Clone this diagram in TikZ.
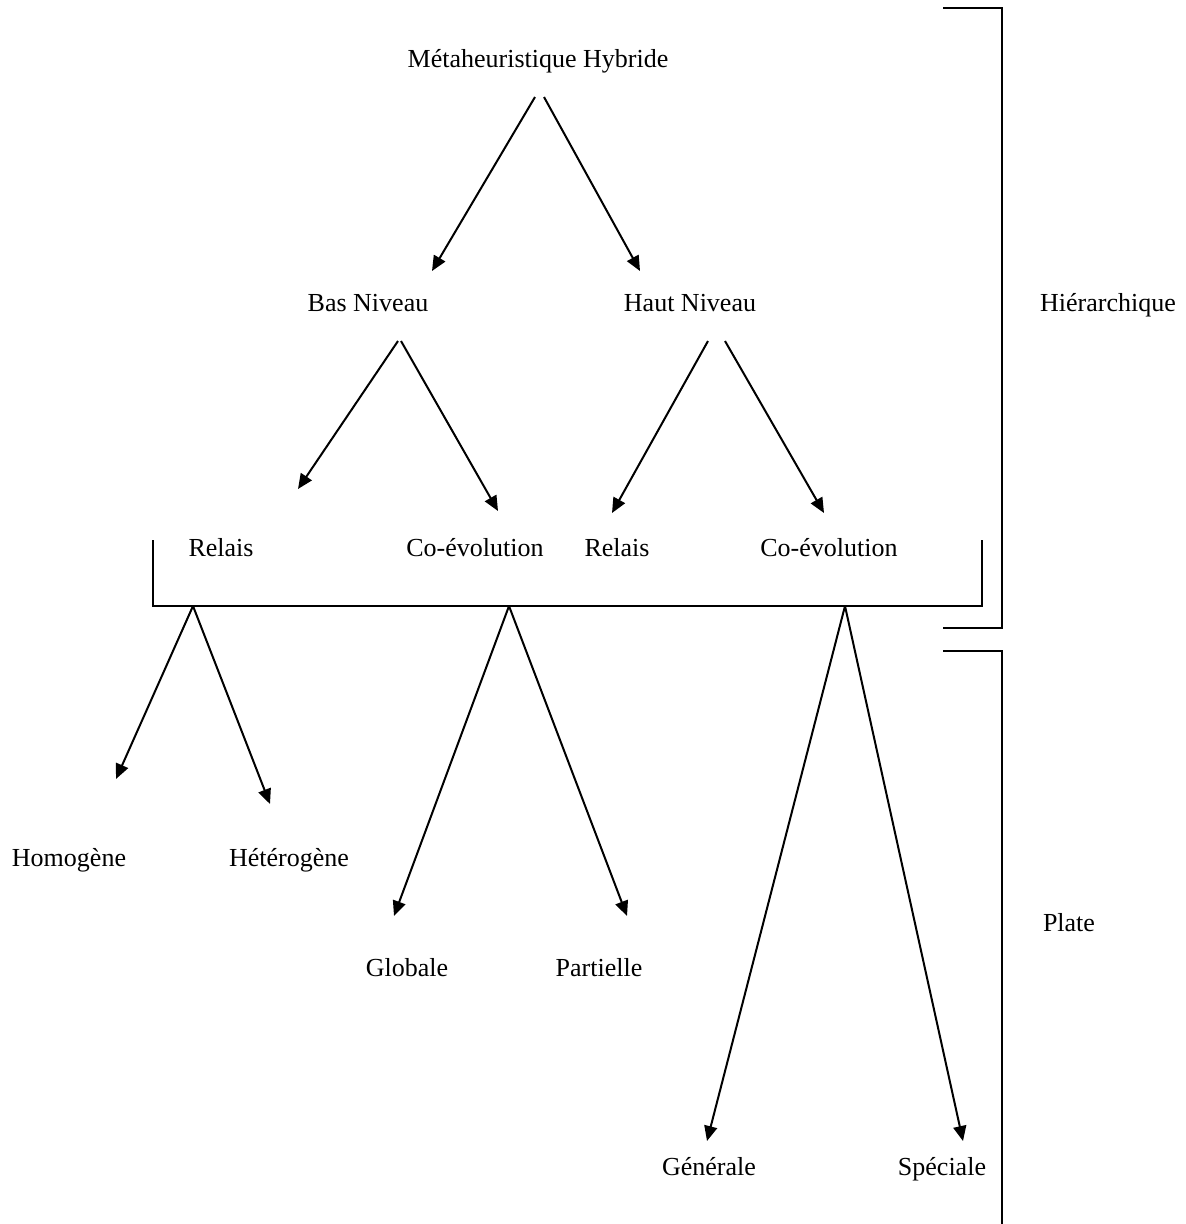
\documentclass[tikz,border=0pt]{standalone}
\usepackage{fontspec}
\setmainfont{Liberation Serif}
\usetikzlibrary{arrows.meta}
\begin{document}
\begin{tikzpicture}[x=1pt,y=-1pt,
  lbl/.style={anchor=base,inner sep=0pt,font=\fontsize{26}{30}\selectfont},
  edge/.style={line width=2pt},
  arr/.style={edge,-{Triangle[length=15pt,width=13pt]}}]
\useasboundingbox (0,0) rectangle (1186,1224);

% labels
\node[lbl] (meta) at (538,67) {Métaheuristique Hybride};
\node[lbl] (bas) at (368,311) {Bas Niveau};
\node[lbl] (haut) at (690,311) {Haut Niveau};
\node[lbl] (hier) at (1108,311) {Hiérarchique};
\node[lbl] (rel1) at (221,556) {Relais};
\node[lbl] (coe1) at (475,556) {Co-évolution};
\node[lbl] (rel2) at (617,556) {Relais};
\node[lbl] (coe2) at (829,556) {Co-évolution};
\node[lbl] (homo) at (69,866) {Homogène};
\node[lbl] (hete) at (289,866) {Hétérogène};
\node[lbl] (glob) at (407,976) {Globale};
\node[lbl] (part) at (599,976) {Partielle};
\node[lbl] (plate) at (1069,931) {Plate};
\node[lbl] (gen) at (709,1175) {Générale};
\node[lbl] (spec) at (942,1175) {Spéciale};

% connector end points
\coordinate (metaL) at (535,97);
\coordinate (metaR) at (544,97);
\coordinate (basIn) at (432,271);
\coordinate (hautIn) at (640,271);
\coordinate (basL) at (398,341);
\coordinate (basR) at (401,341);
\coordinate (hautL) at (708,341);
\coordinate (hautR) at (725,341);
\coordinate (rel1In) at (298,489);
\coordinate (coe1In) at (498,511);
\coordinate (rel2In) at (612,513);
\coordinate (coe2In) at (824,513);
\coordinate (j1) at (193,606);
\coordinate (j2) at (509,606);
\coordinate (j3) at (845,606);
\coordinate (homoIn) at (116,779);
\coordinate (heteIn) at (270,804);
\coordinate (globIn) at (394,916);
\coordinate (partIn) at (627,916);
\coordinate (genIn) at (707,1141);
\coordinate (specIn) at (963,1141);

% tree arrows
\draw[arr] (metaL) -- (basIn);
\draw[arr] (metaR) -- (hautIn);
\draw[arr] (basL) -- (rel1In);
\draw[arr] (basR) -- (coe1In);
\draw[arr] (hautL) -- (rel2In);
\draw[arr] (hautR) -- (coe2In);
\draw[arr] (j1) -- (homoIn);
\draw[arr] (j1) -- (heteIn);
\draw[arr] (j2) -- (globIn);
\draw[arr] (j2) -- (partIn);
\draw[arr] (j3) -- (genIn);
\draw[arr] (j3) -- (specIn);

% bracket grouping the third level
\draw[edge] (153,540) -- (153,606) -- (982,606) -- (982,540);

% side brackets
\draw[edge] (943,8) -- (1002,8) -- (1002,628) -- (943,628);
\draw[edge] (943,651) -- (1002,651) -- (1002,1224);
\end{tikzpicture}
\end{document}
